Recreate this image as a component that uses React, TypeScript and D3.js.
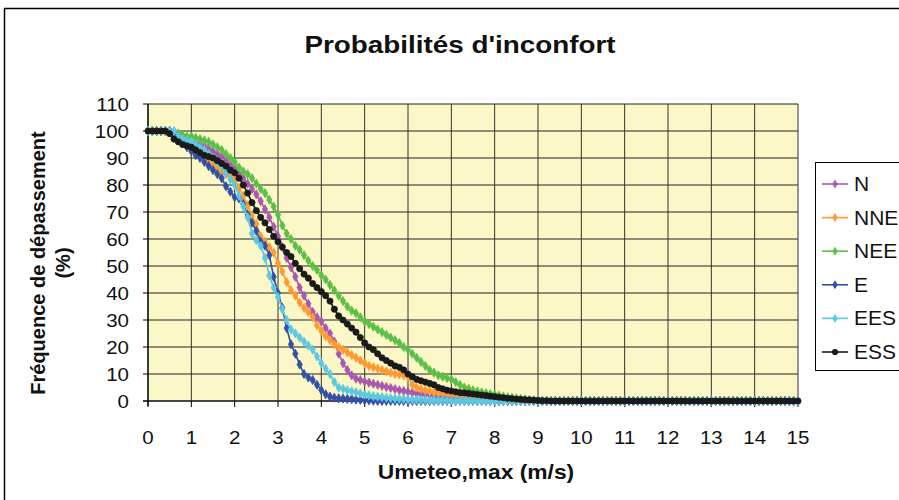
import React from "react";
import * as d3 from "d3";

const speeds: number[] = d3.range(0, 151).map((i) => i / 10);
const xTicks = [0, 1, 2, 3, 4, 5, 6, 7, 8, 9, 10, 11, 12, 13, 14, 15];
const yTicks = [0, 10, 20, 30, 40, 50, 60, 70, 80, 90, 100, 110];

const seriesN = [
  100, 100, 100, 100, 100, 100, 99.5, 99, 98, 97,
  96, 95.5, 95, 94.5, 93.5, 92.5, 91.5, 90.5, 89, 87.5,
  86, 84, 82.5, 80.5, 78.5, 76.5, 74, 71, 68, 64.5,
  61, 57, 53, 49.5, 46, 42, 39, 36, 33, 31,
  29.5, 27, 25, 22, 17.5, 14, 11.5, 9.5, 8.3, 7.8,
  7.2, 6.8, 6.4, 6, 5.6, 5.2, 4.8, 4.4, 4, 3.7,
  3.4, 3.1, 2.8, 2.6, 2.4, 2.2, 2, 1.8, 1.6, 1.5,
  1.4, 1.2, 1, 0.8, 0.6, 0.5, 0.4, 0.3, 0.2, 0.1,
  0.1, 0, 0, 0, 0, 0, 0, 0, 0, 0,
  0, 0, 0, 0, 0, 0, 0, 0, 0, 0,
  0, 0, 0, 0, 0, 0, 0, 0, 0, 0,
  0, 0, 0, 0, 0, 0, 0, 0, 0, 0,
  0, 0, 0, 0, 0, 0, 0, 0, 0, 0,
  0, 0, 0, 0, 0, 0, 0, 0, 0, 0,
  0, 0, 0, 0, 0, 0, 0, 0, 0, 0,
  0,
];

const seriesNNE = [
  100, 100, 100, 100, 100, 100, 99.5, 99, 98, 97,
  95.5, 94, 92.5, 91, 89, 87.5, 86, 85, 84, 83,
  82, 79, 76, 72.5, 68.5, 65.5, 61, 59, 57, 55,
  51, 48, 44, 41, 39, 36.5, 34.5, 33, 31, 28,
  26, 24, 22.5, 21, 20, 19, 18, 17, 16, 15,
  14, 13, 12.5, 12, 11.5, 11, 10.5, 10, 9.8, 9.5,
  9, 6, 5, 4.5, 4, 3.6, 3.3, 3, 2.7, 2.4,
  2.2, 1.9, 1.6, 1.4, 1.2, 1, 0.9, 0.8, 0.6, 0.5,
  0.4, 0.3, 0.2, 0.1, 0, 0, 0, 0, 0, 0,
  0, 0, 0, 0, 0, 0, 0, 0, 0, 0,
  0, 0, 0, 0, 0, 0, 0, 0, 0, 0,
  0, 0, 0, 0, 0, 0, 0, 0, 0, 0,
  0, 0, 0, 0, 0, 0, 0, 0, 0, 0,
  0, 0, 0, 0, 0, 0, 0, 0, 0, 0,
  0, 0, 0, 0, 0, 0, 0, 0, 0, 0,
  0,
];

const seriesNEE = [
  100, 100, 100, 100, 100, 100, 99.5, 99, 98.5, 98,
  98, 97.5, 97, 96.5, 96, 95, 94, 93, 91.5, 90,
  88.5, 86.5, 85, 84, 82.5, 80.5, 78.5, 77, 74.5, 72,
  69, 65, 62, 60, 57.5, 56, 54, 52, 50, 48.5,
  46.5, 45, 43, 41, 39, 37, 35, 33.5, 32.5, 31,
  29.5, 28.5, 27.5, 26.5, 25.5, 24.5, 23.5, 22.5, 21.5, 20,
  19, 17.5, 16, 14.5, 13, 11.5, 10.5, 9.5, 9, 8.5,
  8, 7, 6, 5, 4.5, 4, 3.6, 3.2, 2.9, 2.6,
  2.3, 2, 1.7, 1.4, 1.2, 1, 0.8, 0.6, 0.4, 0.3,
  0.2, 0.1, 0, 0, 0, 0, 0, 0, 0, 0,
  0, 0, 0, 0, 0, 0, 0, 0, 0, 0,
  0, 0, 0, 0, 0, 0, 0, 0, 0, 0,
  0, 0, 0, 0, 0, 0, 0, 0, 0, 0,
  0, 0, 0, 0, 0, 0, 0, 0, 0, 0,
  0, 0, 0, 0, 0, 0, 0, 0, 0, 0,
  0,
];

const seriesE = [
  100, 100, 100, 100, 100, 100, 99, 97, 95.5, 94,
  92.5, 91, 90, 88.5, 87, 85.5, 84, 82.5, 79.5, 77.5,
  75.5, 75, 73, 69, 66, 63, 59, 57.5, 54, 46,
  40, 34.5, 27, 21, 17.5, 13.5, 10, 8.7, 7.8, 6,
  4, 2.5, 1.6, 1.2, 1, 0.9, 0.8, 0.7, 0.5, 0.4,
  0.3, 0.2, 0.1, 0, 0, 0, 0, 0, 0, 0,
  0, 0, 0, 0, 0, 0, 0, 0, 0, 0,
  0, 0, 0, 0, 0, 0, 0, 0, 0, 0,
  0, 0, 0, 0, 0, 0, 0, 0, 0, 0,
  0, 0, 0, 0, 0, 0, 0, 0, 0, 0,
  0, 0, 0, 0, 0, 0, 0, 0, 0, 0,
  0, 0, 0, 0, 0, 0, 0, 0, 0, 0,
  0, 0, 0, 0, 0, 0, 0, 0, 0, 0,
  0, 0, 0, 0, 0, 0, 0, 0, 0, 0,
  0, 0, 0, 0, 0, 0, 0, 0, 0, 0,
  0,
];

const seriesEES = [
  100, 100, 100, 100, 100, 100, 100, 98, 97, 96.5,
  96, 95, 94, 93, 91.5, 90, 88.5, 87, 84.5, 82,
  80, 76, 72, 68, 62, 59.5, 57.5, 53, 46.5, 42,
  38.5, 34, 30, 26.5, 25, 23.5, 22, 20.5, 19, 16.5,
  14, 12, 10, 7, 5, 4.5, 4, 3.6, 3.2, 2.8,
  2.4, 2.1, 1.8, 1.6, 1.4, 1.2, 1, 0.9, 0.8, 0.7,
  0.6, 0.5, 0.5, 0.4, 0.4, 0.3, 0.3, 0.2, 0.2, 0.2,
  0.1, 0.1, 0.1, 0.1, 0.1, 0.1, 0, 0, 0, 0,
  0, 0, 0, 0, 0, 0, 0, 0, 0, 0,
  0, 0, 0, 0, 0, 0, 0, 0, 0, 0,
  0, 0, 0, 0, 0, 0, 0, 0, 0, 0,
  0, 0, 0, 0, 0, 0, 0, 0, 0, 0,
  0, 0, 0, 0, 0, 0, 0, 0, 0, 0,
  0, 0, 0, 0, 0, 0, 0, 0, 0, 0,
  0, 0, 0, 0, 0, 0, 0, 0, 0, 0,
  0,
];

const seriesESS = [
  100, 100, 100, 100, 100, 99, 97, 96, 95, 94.5,
  94, 93, 92, 91, 90.5, 90, 89, 88, 87, 85.5,
  84.5, 82.5, 80, 77, 73.5, 70.5, 68, 66, 63.5, 61,
  59, 57, 55, 53.5, 51, 49, 47, 45.5, 43.5, 42,
  40.5, 39, 37, 34, 31.5, 30, 28.5, 27, 25.5, 23.5,
  21.5, 20, 19, 17.5, 16, 15, 14, 13, 12.5, 11.5,
  10, 9, 8, 7.5, 7, 6.5, 6, 5, 4.5, 4,
  3.7, 3.4, 3.1, 3, 2.8, 2.6, 2.4, 2.2, 2, 1.8,
  1.6, 1.4, 1.2, 1, 0.9, 0.7, 0.6, 0.5, 0.4, 0.3,
  0.2, 0.1, 0.1, 0, 0, 0, 0, 0, 0, 0,
  0, 0, 0, 0, 0, 0, 0, 0, 0, 0,
  0, 0, 0, 0, 0, 0, 0, 0, 0, 0,
  0, 0, 0, 0, 0, 0, 0, 0, 0, 0,
  0, 0, 0, 0, 0, 0, 0, 0, 0, 0,
  0, 0, 0, 0, 0, 0, 0, 0, 0, 0,
  0,
];

const seriesNames = ["N", "NNE", "NEE", "E", "EES", "ESS"];
const seriesColors = ["#a858b0", "#ff9a33", "#5cbf47", "#3350a6", "#5cc8e2", "#1a1a1a"];
const seriesValues = [seriesN, seriesNNE, seriesNEE, seriesE, seriesEES, seriesESS];

const FONT = "'Liberation Sans', Arial, sans-serif";

type STProps = {
  x: number;
  y: number;
  sx?: number;
  size: number;
  bold?: boolean;
  anchor?: "start" | "middle" | "end";
  children: React.ReactNode;
};

function SText({ x, y, sx = 1.1, size, bold, anchor = "start", children }: STProps) {
  return (
    <text
      transform={`translate(${x},${y}) scale(${sx},1)`}
      x={0}
      y={0}
      textAnchor={anchor}
      fontSize={size}
      fontWeight={bold ? "bold" : "normal"}
      fill="#111"
    >
      {children}
    </text>
  );
}

export default function App() {
  const W = 899;
  const H = 500;
  const left = 148;
  const right = 798;
  const top = 104;
  const bottom = 401;

  const x = d3.scaleLinear().domain([0, 15]).range([left, right]);
  const y = d3.scaleLinear().domain([0, 110]).range([bottom, top]);
  const line = d3
    .line<[number, number]>()
    .x((d) => x(d[0]))
    .y((d) => y(d[1]));

  const diamond = d3.symbol().type(d3.symbolDiamond).size(24)() as string;
  const circle = d3.symbol().type(d3.symbolCircle).size(30)() as string;

  const legendRowY = (i: number) => 184 + i * 33.6;

  return (
    <svg
      width={W}
      height={H}
      style={{ position: "absolute", left: 0, top: 0, display: "block", background: "#fff" }}
      fontFamily={FONT}
    >
      <rect x={0} y={0} width={W} height={H} fill="#fff" />
      <rect x={4.5} y={8.5} width={W + 10} height={H + 10} fill="none" stroke="#000" strokeWidth={1.5} />

      <SText x={460} y={53} size={24} bold anchor="middle" sx={1.16}>
        Probabilités d'inconfort
      </SText>

      <rect x={left} y={top} width={right - left} height={bottom - top} fill="#fbf7c6" />

      {yTicks.map((t) => (
        <line key={"gy" + t} x1={left} x2={right} y1={y(t)} y2={y(t)} stroke="#222" strokeWidth={1} />
      ))}
      {xTicks.map((t) => (
        <line key={"gx" + t} x1={x(t)} x2={x(t)} y1={top} y2={bottom} stroke="#333" strokeWidth={1} />
      ))}

      <line x1={left} x2={left} y1={top} y2={bottom + 5} stroke="#000" strokeWidth={1.2} />
      <line x1={left - 5} x2={right} y1={bottom} y2={bottom} stroke="#000" strokeWidth={1.2} />
      {yTicks.map((t) => (
        <line key={"ty" + t} x1={left - 5} x2={left} y1={y(t)} y2={y(t)} stroke="#000" />
      ))}
      {xTicks.map((t) => (
        <line key={"tx" + t} x1={x(t)} x2={x(t)} y1={bottom} y2={bottom + 6} stroke="#000" />
      ))}

      {yTicks.map((t) => (
        <SText key={"ly" + t} x={129} y={y(t) + 6.5} size={19} anchor="end" sx={1.08}>
          {t}
        </SText>
      ))}
      {xTicks.map((t) => (
        <SText key={"lx" + t} x={x(t)} y={444} size={19} anchor="middle" sx={1.08}>
          {t}
        </SText>
      ))}

      <SText x={476} y={479} size={20} bold anchor="middle" sx={1.14}>
        Umeteo,max (m/s)
      </SText>
      <g transform="translate(45,263) rotate(-90)">
        <text x={0} y={0} textAnchor="middle" fontSize={20} fontWeight="bold" fill="#111">
          Fréquence de dépassement
        </text>
        <text x={0} y={25} textAnchor="middle" fontSize={20} fontWeight="bold" fill="#111">
          (%)
        </text>
      </g>

      {seriesValues.map((vals, si) => {
        const pts: [number, number][] = vals.map((v, i) => [speeds[i], v]);
        const col = seriesColors[si];
        const sym = si === 5 ? circle : diamond;
        return (
          <g key={"s" + si}>
            <path d={line(pts) as string} fill="none" stroke={col} strokeWidth={1.7} />
            {pts.map((p, i) => (
              <path
                key={i}
                d={sym}
                transform={`translate(${x(p[0])},${y(p[1])})`}
                fill={col}
                stroke={col}
                strokeWidth={0.8}
              />
            ))}
          </g>
        );
      })}

      <rect x={815.5} y={162.5} width={100} height={208} fill="#fff" stroke="#000" strokeWidth={1} />
      {seriesNames.map((name, i) => (
        <g key={"lg" + i}>
          <line x1={822} x2={848} y1={legendRowY(i)} y2={legendRowY(i)} stroke={seriesColors[i]} strokeWidth={1.6} />
          <path
            d={i === 5 ? circle : diamond}
            transform={`translate(835,${legendRowY(i)})`}
            fill={seriesColors[i]}
          />
          <SText x={854} y={legendRowY(i) + 7} size={20} sx={1.05}>
            {name}
          </SText>
        </g>
      ))}
    </svg>
  );
}
